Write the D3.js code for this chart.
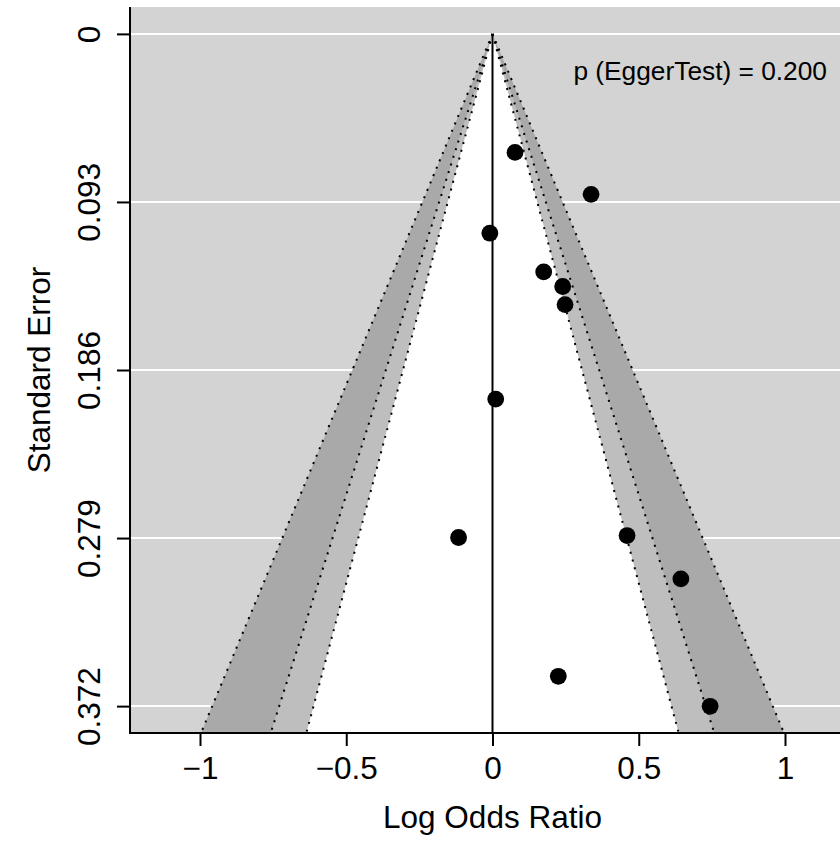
<!DOCTYPE html>
<html><head><meta charset="utf-8">
<script src="https://cdn.jsdelivr.net/npm/d3@7"></script>
<style>
body{margin:0;background:#fff}
svg{display:block}
text{font-family:"Liberation Sans",Arial,Helvetica,sans-serif;fill:#000}
</style>
</head><body><svg id="c" width="840" height="842"></svg>
<script>
// ---- data ----
const estimates      = [0.077, 0.337, -0.009, 0.175, 0.240, 0.248, 0.011, -0.116, 0.460, 0.644, 0.225, 0.744];
const standardErrors = [0.0656, 0.0888, 0.1103, 0.1317, 0.1398, 0.1498, 0.2021, 0.2787, 0.2776, 0.3016, 0.3555, 0.3721];
const xTicks = [-1, -0.5, 0, 0.5, 1];
const xTickLabels = ["\u22121", "\u22120.5", "0", "0.5", "1"];
const yTicks = [0, 0.093, 0.186, 0.279, 0.372];
const yTickLabels = ["0", "0.093", "0.186", "0.279", "0.372"];
const contourLevels = ["99%", "95%", "90%"];
const contourZ = [2.5758, 1.9600, 1.6449];
const contourFills = ["#a9a9a9", "#bebebe", "#ffffff"];
const eggerLabel = "p (EggerTest) = 0.200";
const xTitle = "Log Odds Ratio";
const yTitle = "Standard Error";

// ---- layout ----
const L = 130, R = 855, T = 7, B = 733;
const FS = 31.5;
const seMax = 0.372;
const ySpan = seMax * 0.04;
const x = d3.scaleLinear().domain([-1.2393, 1.2393]).range([L, R]);
const y = d3.scaleLinear().domain([-ySpan, seMax + ySpan]).range([T, B]);
const yBottom = y.domain()[1];
const FONT = '"Liberation Sans",Arial,Helvetica,sans-serif';

const svg = d3.select("#c");
svg.append("defs").append("clipPath").attr("id", "clip")
  .append("rect").attr("x", L).attr("y", T).attr("width", R - L).attr("height", B - T);

const plot = svg.append("g").attr("clip-path", "url(#clip)");
plot.append("rect").attr("x", L).attr("y", T).attr("width", R - L).attr("height", B - T).attr("fill", "#d3d3d3");

// white horizontal lines
plot.selectAll("line.h").data(yTicks).join("line").attr("class", "h")
  .attr("x1", L).attr("x2", R).attr("y1", d => y(d)).attr("y2", d => y(d))
  .attr("stroke", "#fff").attr("stroke-width", 2);

// contour polygons
plot.selectAll("path.cont").data(contourZ).join("path").attr("class", "cont")
  .attr("d", z => d3.line()([[x(0), y(0)], [x(-z * yBottom), y(yBottom)], [x(z * yBottom), y(yBottom)]]) + "Z")
  .attr("fill", (z, i) => contourFills[i]);

// dotted boundaries
contourZ.forEach(z => {
  [-1, 1].forEach(s => {
    plot.append("line")
      .attr("x1", x(0)).attr("y1", y(0))
      .attr("x2", x(s * z * yBottom)).attr("y2", y(yBottom))
      .attr("stroke", "#000").attr("stroke-width", 2).attr("stroke-dasharray", "2 6");
  });
});

// reference line
plot.append("line").attr("x1", x(0)).attr("x2", x(0)).attr("y1", y(0)).attr("y2", y(yBottom))
  .attr("stroke", "#000").attr("stroke-width", 2);

// points
plot.selectAll("circle").data(estimates).join("circle")
  .attr("cx", d => x(d)).attr("cy", (d, i) => y(standardErrors[i])).attr("r", 8.4)
  .attr("fill", "#000");

// axes
const xAxis = svg.append("g").attr("transform", `translate(0,${B})`)
  .call(d3.axisBottom(x).tickValues(xTicks).tickFormat((d, i) => xTickLabels[i]).tickSize(13).tickSizeOuter(0));
xAxis.select(".domain").remove();
xAxis.selectAll(".tick line").attr("stroke-width", 2);
xAxis.selectAll(".tick text").attr("y", 46).attr("dy", null).attr("font-size", FS).style("font-family", FONT);

const yAxis = svg.append("g").attr("transform", `translate(${L},0)`)
  .call(d3.axisLeft(y).tickValues(yTicks).tickFormat((d, i) => yTickLabels[i]).tickSize(13).tickSizeOuter(0));
yAxis.select(".domain").remove();
yAxis.selectAll(".tick line").attr("stroke-width", 2);
yAxis.selectAll(".tick text").attr("x", null).attr("dy", null)
  .attr("text-anchor", "middle").attr("transform", "translate(-30,0) rotate(-90)")
  .attr("font-size", FS).style("font-family", FONT);

// box lines (L-shaped)
svg.append("line").attr("x1", L).attr("x2", L).attr("y1", T).attr("y2", B + 1).attr("stroke", "#000").attr("stroke-width", 2);
svg.append("line").attr("x1", L - 1).attr("x2", 840).attr("y1", B).attr("y2", B).attr("stroke", "#000").attr("stroke-width", 2);

// titles
svg.append("text").attr("x", x(0)).attr("y", 828).attr("text-anchor", "middle").attr("font-size", FS).text(xTitle);
svg.append("text").attr("transform", `translate(50,${(T + B) / 2}) rotate(-90)`).attr("text-anchor", "middle").attr("font-size", FS).text(yTitle);
svg.append("text").attr("x", 827).attr("y", 80).attr("text-anchor", "end").attr("font-size", 26.3).text(eggerLabel);
</script>
</body></html>
